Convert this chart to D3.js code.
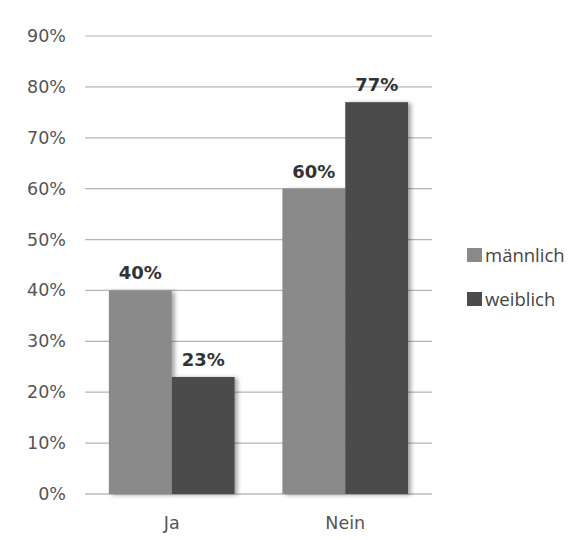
<!DOCTYPE html>
<html lang="de">
<head>
    <meta charset="UTF-8">
    <title>Ja / Nein nach Geschlecht</title>
    <script src="https://d3js.org/d3.v7.min.js"></script>
    <style>
        body { margin: 0; background: #fff; }
        .tick-label { font-family: "DejaVu Sans", Verdana, sans-serif; font-size: 17.5px; fill: #555; }
        .value-label { font-family: "DejaVu Sans", sans-serif; font-size: 18px; font-weight: bold; fill: #333; text-anchor: middle; }
        .legend-label { font-family: "Open Sans", "Liberation Sans", sans-serif; font-size: 18.5px; fill: #444; }
    </style>
</head>
<body>
    <svg width="568" height="540"></svg>
    <script>
        const categories = ["Ja", "Nein"];
        const series = ["männlich", "weiblich"];
        const maennlich = [0.40, 0.60];
        const weiblich = [0.23, 0.77];
        const valueLabels = [["40%", "60%"], ["23%", "77%"]];
        const yTicks = [0, 0.1, 0.2, 0.3, 0.4, 0.5, 0.6, 0.7, 0.8, 0.9];
        const colors = ["#8a8a8a", "#4b4b4b"];

        const svg = d3.select("svg");

        const defs = svg.append("defs");
        const f = defs.append("filter").attr("id", "shadow")
            .attr("x", "-20%").attr("y", "-10%").attr("width", "150%").attr("height", "130%");
        f.append("feDropShadow").attr("dx", 3).attr("dy", 1).attr("stdDeviation", 2)
            .attr("flood-color", "#000").attr("flood-opacity", 0.35);

        const x = d3.scaleBand().domain(categories).range([85, 432]).padding(0);
        const x1 = d3.scaleBand().domain(series).range([0, x.bandwidth()]).paddingInner(0).paddingOuter(0.38);
        const y = d3.scaleLinear().domain([0, 0.9]).range([494, 36]);

        // gridlines
        svg.append("g").selectAll("line").data(yTicks).enter().append("line")
            .attr("x1", 85).attr("x2", 432)
            .attr("y1", d => y(d)).attr("y2", d => y(d))
            .attr("stroke", d => d === 0 ? "#999" : "#b5b5b5").attr("stroke-width", 1.2);

        // y tick labels
        svg.append("g").selectAll("text").data(yTicks).enter().append("text")
            .attr("class", "tick-label")
            .attr("x", 66).attr("y", d => y(d) + 6)
            .attr("text-anchor", "end")
            .text(d => Math.round(d * 100) + "%");

        const data = [maennlich, weiblich];
        series.forEach((s, i) => {
            svg.append("g").selectAll("rect").data(categories).enter().append("rect")
                .attr("x", c => x(c) + x1(s))
                .attr("y", (c, j) => y(data[i][j]))
                .attr("width", x1.bandwidth())
                .attr("height", (c, j) => y(0) - y(data[i][j]))
                .attr("fill", colors[i])
                .attr("filter", "url(#shadow)");
        });

        series.forEach((s, i) => {
            svg.append("g").selectAll("text").data(categories).enter().append("text")
                .attr("class", "value-label")
                .attr("x", c => x(c) + x1(s) + x1.bandwidth() / 2)
                .attr("y", (c, j) => y(data[i][j]) - 11)
                .text((c, j) => valueLabels[i][j]);
        });

        // x category labels
        svg.append("g").selectAll("text").data(categories).enter().append("text")
            .attr("class", "tick-label")
            .attr("x", c => x(c) + x.bandwidth() / 2)
            .attr("y", 529)
            .attr("text-anchor", "middle")
            .text(c => c);

        // legend
        const legend = svg.append("g").selectAll("g").data(series).enter().append("g")
            .attr("transform", (d, i) => `translate(467,${248 + i * 44})`);
        legend.append("rect").attr("width", 15).attr("height", 14)
            .attr("fill", (d, i) => colors[i]);
        legend.append("text").attr("class", "legend-label")
            .attr("x", 18).attr("y", 14).text(d => d);
    </script>
</body>
</html>
